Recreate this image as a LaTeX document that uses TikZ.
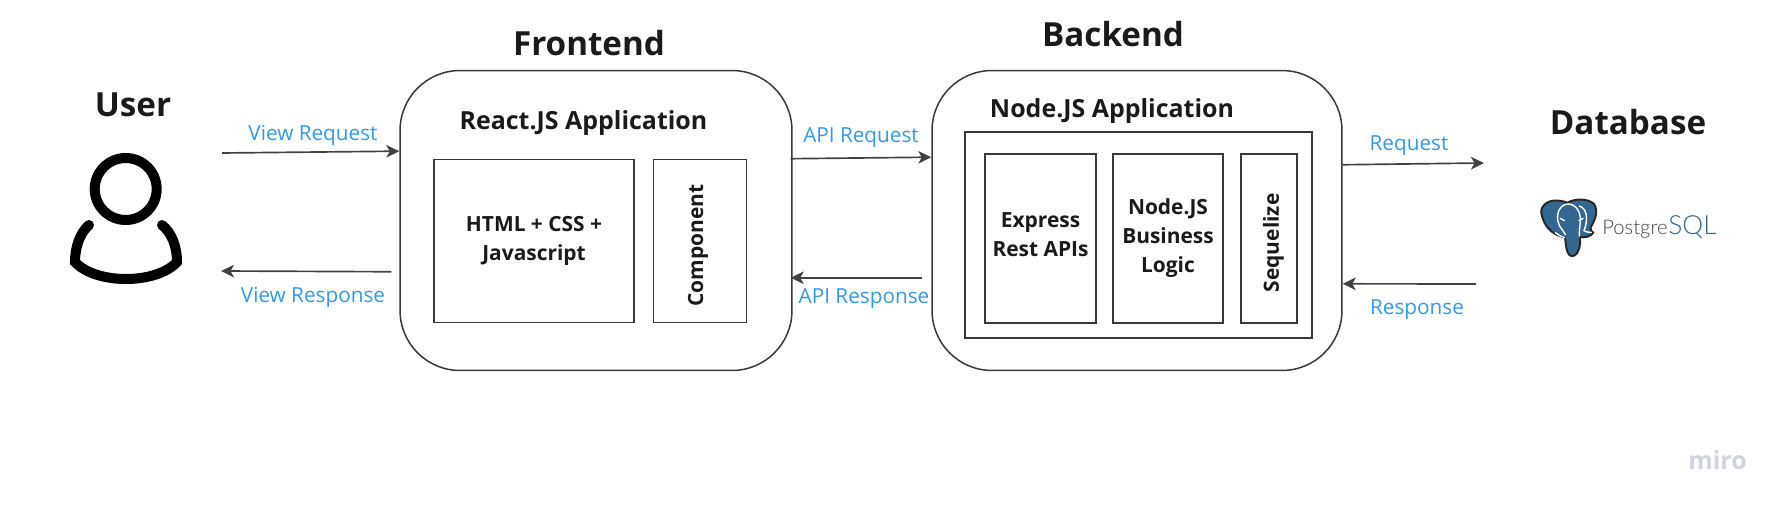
\documentclass[tikz,border=0pt]{standalone}
\usepackage{fontspec}
\setmainfont{Open Sans}
\newfontfamily\logofont{Lato Light}
\usetikzlibrary{arrows.meta,positioning,calc}
\definecolor{ink}{HTML}{1A1A1A}
\definecolor{line}{HTML}{383838}
\definecolor{arrowgray}{HTML}{414141}
\definecolor{linkblue}{HTML}{3399E6}
\definecolor{pgblue}{HTML}{336791}
\definecolor{pggray}{HTML}{444444}
\definecolor{mirogray}{HTML}{D3D3DD}
\tikzset{
  x=0.02cm, y=-0.02cm,
  heading/.style={font=\fontsize{18.9}{21}\selectfont\bfseries, text=ink, inner sep=0pt},
  apptitle/.style={font=\fontsize{14.2}{16}\selectfont\bfseries, text=ink, inner sep=0pt},
  tier/.style={draw=line, line width=0.85pt, rounded corners=1.2cm, minimum width=#1, minimum height=6cm, inner sep=0pt},
  box/.style={draw=line, line width=0.9pt, align=center, inner sep=0pt, text=ink, font=\fontsize{11.9}{16.5}\selectfont\bfseries},
  arr/.style={-{Stealth[length=2.6mm,width=2.5mm,inset=0.7mm]}, line width=0.95pt, draw=arrowgray},
  lab/.style={font=\fontsize{11.8}{13}\selectfont, text=linkblue, inner sep=0pt},
}
\begin{document}
\begin{tikzpicture}
    \path[use as bounding box] (0,0) rectangle (1787,510);

    \foreach \n/\x/\y/\t in {huser/133/105/User, hfront/589/43/Frontend, hback/1113/34/Backend, hdb/1628/122/Database} {
      \node[heading] (\n) at (\x,\y) {\t};
    }

    \node[tier=7.84cm] (frontend) at (596,220.5) {};
    \node[tier=8.2cm] (backend) at (1137,220.5) {};
    \node[apptitle] (treact) at (583.5,123) {React.JS Application};
    \node[apptitle] (tnode) at (1112,111) {Node.JS Application};

    \node[box, minimum width=4cm, minimum height=3.26cm] (html) at (534,241) {HTML + CSS +\\Javascript};
    \node[box, rotate=90, minimum width=3.26cm, minimum height=1.86cm] (component) at (700,241) {\raisebox{-1.8pt}[0pt][0pt]{Component}\hspace{5pt}};

    \node[box, minimum width=6.94cm, minimum height=4.12cm] (nodeapp) at (1138.5,235) {};
    \node[box, minimum width=2.22cm, minimum height=3.38cm] (express) at (1040.5,238.5) {Express\\Rest APIs\rule[-4.3pt]{0pt}{1pt}};
    \node[box, minimum width=2.2cm, minimum height=3.38cm] (logic) at (1168,238.5) {Node.JS\\Business\\Logic};
    \node[box, rotate=90, minimum width=3.38cm, minimum height=1.12cm] (sequelize) at (1269,238.5) {\raisebox{-5.6pt}[0pt][0pt]{Sequelize}\hspace{5pt}};

    \node[circle, draw=black, line width=5.7pt, minimum size=1.24cm, inner sep=0pt] (userhead) at (125.7,189) {};
    \draw[black, line width=5.7pt, line cap=round] (89,225) .. controls (80,233) and (75,247) .. (75,262)
      .. controls (85,273) and (105,279) .. (126,279) .. controls (147,279) and (167,273) .. (177,262)
      .. controls (177,247) and (172,233) .. (162,225);

    \coordinate (vreqs) at (222,153);
    \coordinate (vresp) at (221,271);
    \coordinate (dbreq) at (1484,163);
    \coordinate (dbres) at (1476,284);

    \draw[arr] (vreqs) -- ($(frontend.north west)!0.27!(frontend.south west)$);
    \draw[arr] ($(frontend.north west)!0.67!(frontend.south west)+(-8,0)$) -- (vresp);
    \draw[arr] ($(frontend.north east)!0.295!(frontend.south east)+(-2,0)$) -- ($(backend.north west)!0.29!(backend.south west)$);
    \draw[arr] ($(backend.north west)!0.69!(backend.south west)+(-9,0)$) -- ($(frontend.north east)!0.69!(frontend.south east)+(-2,0)$);
    \draw[arr] ($(backend.north east)!0.315!(backend.south east)$) -- (dbreq);
    \draw[arr] (dbres) -- ($(backend.north east)!0.71!(backend.south east)$);

    \foreach \n/\x/\y/\t in {lvreq/313/135/View Request, lvres/313/297/View Response, lareq/861/138/API Request,
                             lares/864/299/API Response, ldreq/1409/146/Request, ldres/1417/310/Response} {
      \node[lab] (\n) at (\x,\y) {\t};
    }

    \begin{scope}[shift={(1520,190)}, x=0.00667cm, y=-0.00667cm]
      \draw[fill=pgblue, draw=black!85, line width=1.1pt, line join=round] (70,48) .. controls (85,28) and (115,28) .. (142,38)
        .. controls (165,25) and (205,25) .. (222,42) .. controls (235,62) and (228,85) .. (212,112)
        .. controls (208,120) and (215,124) .. (220,128) .. controls (212,140) and (192,145) .. (181,140)
        .. controls (180,165) and (180,190) .. (160,198) .. controls (140,202) and (138,170) .. (135,142)
        .. controls (115,140) and (85,125) .. (72,95) .. controls (62,72) and (60,58) .. (70,48) -- cycle;
      \draw[white, line width=0.8pt, line cap=round] (146,42) .. controls (120,42) and (108,70) .. (114,95)
        .. controls (118,115) and (132,122) .. (136,134);
      \draw[white, line width=0.8pt, line cap=round] (146,42) .. controls (170,44) and (186,70) .. (180,105)
        .. controls (178,120) and (178,130) .. (178,138);
      \draw[white, line width=0.8pt, line cap=round] (178,48) .. controls (200,55) and (206,85) .. (192,122) .. controls (198,126) and (206,128) .. (214,127);
      \draw[white, line width=0.8pt, line cap=round] (106,128) .. controls (114,135) and (124,140) .. (134,143);
      \draw[white, line width=0.8pt] (120,85) -- (134,92) (190,85) -- (176,92);
    \end{scope}

    \node[font=\fontsize{11.5}{12}\selectfont\logofont, text=pggray, anchor=base west, inner sep=0pt] (pgname) at (1602,234) {Postgre};
    \node[font=\fontsize{15}{16}\selectfont\logofont, text=pgblue, inner sep=0pt, anchor=base west] (pgsql) at (pgname.base east) {SQL};

    \node[font=\fontsize{14.2}{16}\selectfont\bfseries, text=mirogray, inner sep=0pt] (miro) at (1717.5,460) {miro};
  \end{tikzpicture}
\end{document}
